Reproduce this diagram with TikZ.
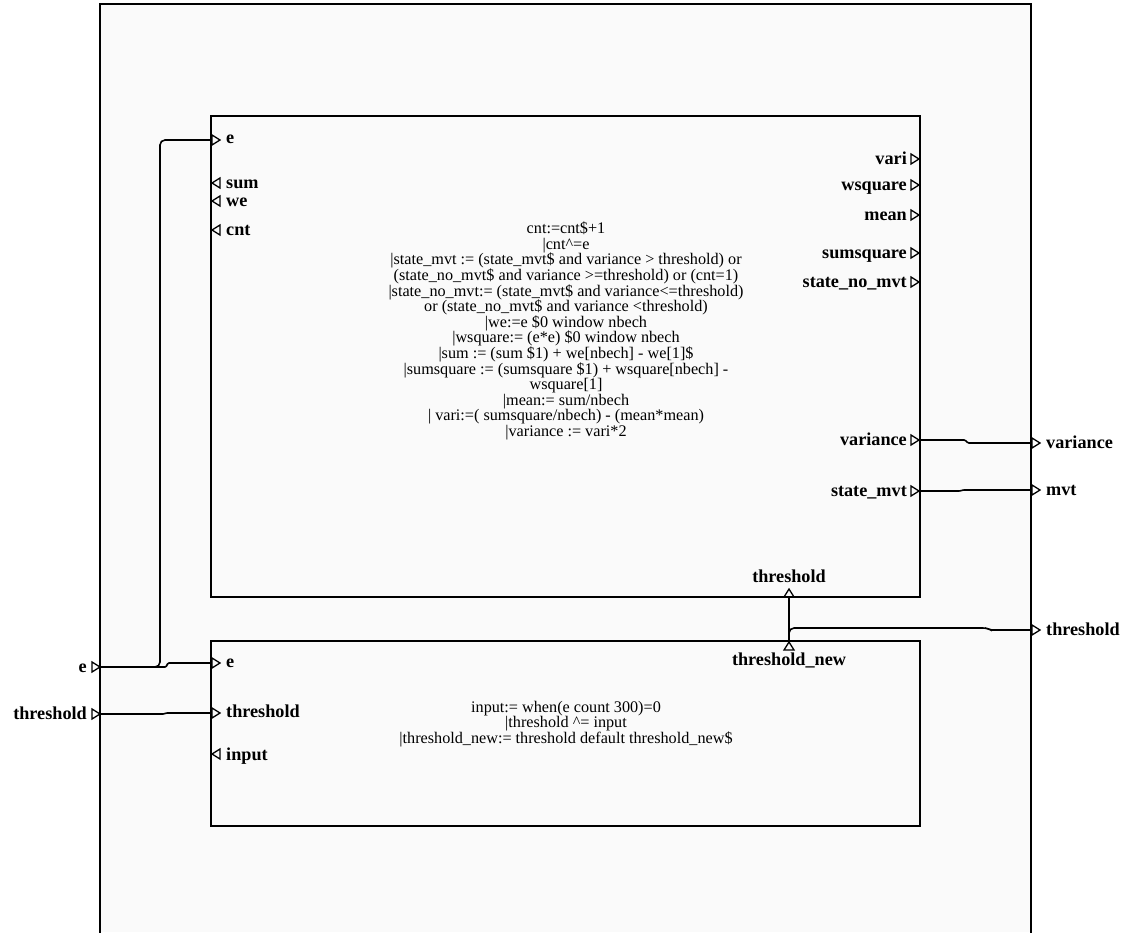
\documentclass[tikz,border=0pt]{standalone}
\usepackage{fontspec}
\setmainfont{Liberation Serif}
\definecolor{bgc}{RGB}{250,250,250}
\tikzset{
  frame/.style={line width=1.8pt, draw=black},
  box/.style={draw=black, line width=1.8pt, fill=bgc, inner sep=0pt, outer sep=0pt, rectangle},
  wire/.style={line width=1.6pt, rounded corners=5pt},
  tri/.style={line width=1.3pt, line join=miter},
  lab/.style={font=\fontsize{18.2}{18.2}\selectfont\bfseries, inner sep=0pt, text height=1.0em, text depth=0pt},
  code/.style={font=\fontsize{16.2}{15.6}\selectfont, align=center, inner sep=0pt},
  trR/.pic={\draw[tri] (0,-5) -- (8,0) -- (0,5) -- cycle;},
  trL/.pic={\draw[tri] (8,-5) -- (0,0) -- (8,5) -- cycle;},
  trU/.pic={\draw[tri] (-5,0) -- (0,-8) -- (5,0) -- cycle;},
}
\begin{document}
\begin{tikzpicture}[x=1pt,y=-1pt]
\useasboundingbox (0,0) rectangle (1126,932);
% outer frame
\fill[bgc] (100,4) rectangle (1031,932);
\draw[frame] (100,934) -- (100,4) -- (1031,4) -- (1031,934);
% inner boxes
\node[box, minimum width=709pt, minimum height=481pt, anchor=north west] (U) at (211,116) {};
\node[box, minimum width=709pt, minimum height=185pt, anchor=north west] (L) at (211,641) {};
% port coordinates
\coordinate (Ue) at (211,140);
\coordinate (Uvar) at (920,440);
\coordinate (Umvt) at (920,491);
\coordinate (Uth) at (789,597);
\coordinate (Le) at (211,663);
\coordinate (Lth) at (211,713);
\coordinate (Lthn) at (789,641);
\coordinate (Oe) at (100,667);
\coordinate (Oth) at (100,714);
\coordinate (Ovar) at (1031,443);
\coordinate (Omvt) at (1031,490);
\coordinate (Othr) at (1031,630);
% wires
\draw[wire] (Oe) -- (160,667) -- (160,140) -- (Ue);
\draw[wire, rounded corners=1pt] (Oe) -- (166,667) -- (168,663) -- (Le);
\draw[wire, rounded corners=1pt] (Oth) -- (164,714) -- (166,713) -- (Lth);
\draw[wire, rounded corners=1pt] (Uvar) -- (965,440) -- (968,443) -- (Ovar);
\draw[wire, rounded corners=1pt] (Umvt) -- (960,491) -- (963,490) -- (Omvt);
\draw[wire] (Lthn) -- (Uth);
\draw[wire] (Lthn) -- (789,628) -- (988,628) [rounded corners=1pt] -- (991,630) -- (Othr);
% triangles upper box
\pic at (212,140) {trR};
\pic at (212,183) {trL};
\pic at (212,201) {trL};
\pic at (212,230) {trL};
\pic at (911,159) {trR};
\pic at (911,185) {trR};
\pic at (911,215) {trR};
\pic at (911,253) {trR};
\pic at (911,282) {trR};
\pic at (911,440) {trR};
\pic at (911,491) {trR};
\pic at (789,597) {trU};
% triangles lower box
\pic at (212,663) {trR};
\pic at (212,713) {trR};
\pic at (212,754) {trL};
\pic at (789,650) {trU};
% triangles outer
\pic at (92,667) {trR};
\pic at (92,714) {trR};
\pic at (1032,443) {trR};
\pic at (1032,490) {trR};
\pic at (1032,630) {trR};
% labels upper box
\node[lab, anchor=west] (lUe) at (226,138) {e};
\node[lab, anchor=west] (lUsum) at (226,183) {sum};
\node[lab, anchor=west] (lUwe) at (226,201) {we};
\node[lab, anchor=west] (lUcnt) at (226,230) {cnt};
\node[lab, anchor=east] (lUvari) at (907,159) {vari};
\node[lab, anchor=east] (lUwsq) at (907,185) {wsquare};
\node[lab, anchor=east] (lUmean) at (907,215) {mean};
\node[lab, anchor=east] (lUsumsq) at (907,253) {sumsquare};
\node[lab, anchor=east] (lUsnm) at (907,282) {state\_no\_mvt};
\node[lab, anchor=east] (lUvar) at (907,440) {variance};
\node[lab, anchor=east] (lUsm) at (907,491) {state\_mvt};
\node[lab] (lUth) at (789,577) {threshold};
% labels lower box
\node[lab, anchor=west] (lLe) at (226,662) {e};
\node[lab, anchor=west] (lLth) at (226,712) {threshold};
\node[lab, anchor=west] (lLin) at (226,755) {input};
\node[lab] (lLthn) at (789,660) {threshold\_new};
% labels outer
\node[lab, anchor=east] (lOe) at (87,667) {e};
\node[lab, anchor=east] (lOth) at (87,714) {threshold};
\node[lab, anchor=west] (lOvar) at (1046,443) {variance};
\node[lab, anchor=west] (lOmvt) at (1046,490) {mvt};
\node[lab, anchor=west] (lOthr) at (1046,630) {threshold};
% code texts
\node[code] (Ucode) at (566,331) {cnt:=cnt\$+1\\
|cnt\textasciicircum=e\\
|state\_mvt := (state\_mvt\$ and  variance >  threshold) or\\
(state\_no\_mvt\$ and variance >=threshold) or (cnt=1)\\
|state\_no\_mvt:= (state\_mvt\$ and variance<=threshold)\\
or (state\_no\_mvt\$ and variance <threshold)\\
|we:=e \$0 window nbech\\
|wsquare:= (e*e) \$0 window nbech\\
|sum := (sum \$1) + we[nbech] - we[1]\$\\
|sumsquare := (sumsquare \$1) + wsquare[nbech] -\\
wsquare[1]\\
|mean:= sum/nbech\\
| vari:=( sumsquare/nbech) - (mean*mean)\\
|variance :=  vari*2};
\node[code, font=\fontsize{16.2}{14.8}\selectfont] (Lcode) at (566,724) {input:= when(e count 300)=0\\
|threshold \textasciicircum= input\\
|threshold\_new:= threshold default threshold\_new\$};
\end{tikzpicture}
\end{document}
